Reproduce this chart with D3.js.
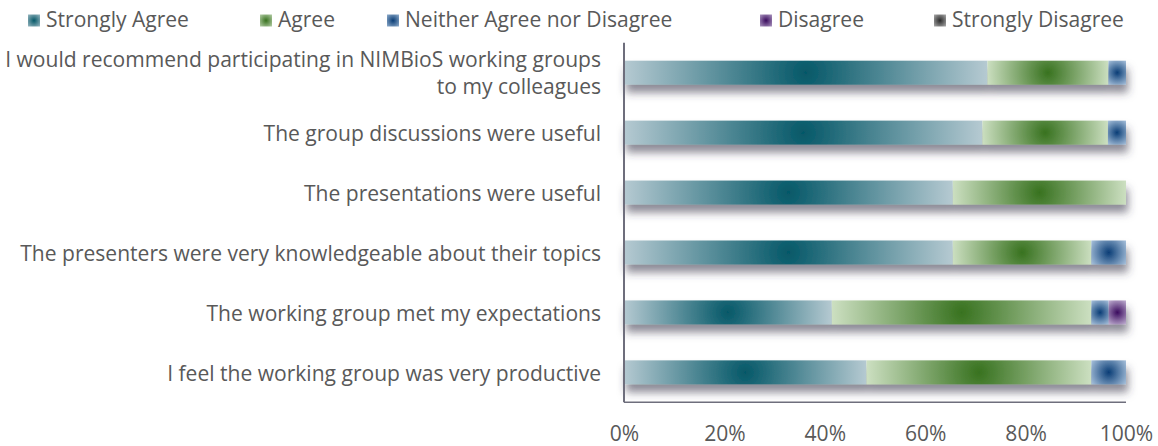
<!DOCTYPE html>
<html>
<head>
<meta charset="utf-8">
<script src="https://cdn.jsdelivr.net/npm/d3@7"></script>
<style>
  html, body { margin: 0; padding: 0; background: #ffffff; }
  svg { display: block; }
  text { font-family: "Open Sans", "Noto Sans", sans-serif; fill: #595959; }
</style>
</head>
<body>
<svg id="chart" width="1158" height="446"></svg>
<script>
// ---- data (percent of respondents) ----
const categories = [
  "I would recommend participating in NIMBioS working groups|to my colleagues",
  "The group discussions were useful",
  "The presentations were useful",
  "The presenters were very knowledgeable about their topics",
  "The working group met my expectations",
  "I feel the working group was very productive"
];
const seriesNames = ["Strongly Agree", "Agree", "Neither Agree nor Disagree", "Disagree", "Strongly Disagree"];
const stronglyAgree    = [72.4, 71.4, 65.5, 65.5, 41.4, 48.3];
const agree            = [24.1, 25.0, 34.5, 27.6, 51.7, 44.8];
const neither          = [3.5, 3.6, 0, 6.9, 3.45, 6.9];
const disagree         = [0, 0, 0, 0, 3.45, 0];
const stronglyDisagree = [0, 0, 0, 0, 0, 0];
const tickValues = [0, 20, 40, 60, 80, 100];

// colours: [centre (dark), edge (light)]
const palette = [
  ["#055868", "#b6cad2"],
  ["#38721f", "#cde0c2"],
  ["#0a3d76", "#a9c2dc"],
  ["#3a0b5e", "#c2b2d3"],
  ["#2a2a2a", "#c4c4c4"]
];

const rows = categories.map((c, i) => ({
  cat: c,
  "Strongly Agree": stronglyAgree[i],
  "Agree": agree[i],
  "Neither Agree nor Disagree": neither[i],
  "Disagree": disagree[i],
  "Strongly Disagree": stronglyDisagree[i]
}));
const stacked = d3.stack().keys(seriesNames)(rows);

const svg = d3.select("#chart");
const defs = svg.append("defs");

const plot = { left: 624, right: 1126, top: 42.7, bottom: 402.3 };
const x = d3.scaleLinear().domain([0, 100]).range([plot.left, plot.right]);
const y = d3.scaleBand().domain(categories).range([plot.top, plot.bottom])
  .paddingInner(0.6).paddingOuter(0.3);

// shadow filter
const f = defs.append("filter").attr("id", "shadow")
  .attr("x", "-0.05").attr("y", "-0.6").attr("width", "1.1").attr("height", "2.8");
f.append("feGaussianBlur").attr("in", "SourceAlpha").attr("stdDeviation", 4.5).attr("result", "b");
f.append("feOffset").attr("in", "b").attr("dx", 2).attr("dy", 8).attr("result", "o");
f.append("feFlood").attr("flood-color", "#3a384c").attr("flood-opacity", 0.58).attr("result", "c");
f.append("feComposite").attr("in", "c").attr("in2", "o").attr("operator", "in").attr("result", "s");
const fm = f.append("feMerge");
fm.append("feMergeNode").attr("in", "s");
fm.append("feMergeNode").attr("in", "SourceGraphic");

let gid = 0;
function radial(cx, cy, r, si) {
  const id = "g" + (gid++);
  const g = defs.append("radialGradient").attr("id", id)
    .attr("gradientUnits", "userSpaceOnUse")
    .attr("cx", cx).attr("cy", cy).attr("r", r)
    .attr("fx", cx).attr("fy", cy);
  g.append("stop").attr("offset", "0%").attr("stop-color", palette[si][0]);
  g.append("stop").attr("offset", "100%").attr("stop-color", palette[si][1]);
  return "url(#" + id + ")";
}

// bars
const rowGroups = svg.append("g").selectAll("g.row")
  .data(categories).join("g").attr("class", "row").attr("filter", "url(#shadow)");

rowGroups.each(function(cat, ri) {
  const g = d3.select(this);
  stacked.forEach((s, si) => {
    const d = s[ri];
    const x0 = x(d[0]), x1 = x(d[1]);
    const w = x1 - x0;
    if (w <= 0.01) return;
    const y0 = y(cat), h = y.bandwidth();
    const r = Math.sqrt(w * w + h * h) / 2;
    g.append("rect")
      .attr("x", x0).attr("y", y0).attr("width", w).attr("height", h)
      .attr("fill", radial(x0 + w / 2, y0 + h / 2, r, si));
  });
});

// axes lines
svg.append("line").attr("x1", plot.left).attr("x2", plot.left)
  .attr("y1", plot.top).attr("y2", plot.bottom)
  .attr("stroke", "#6e6e7c").attr("stroke-width", 2);
svg.append("line").attr("x1", plot.left).attr("x2", plot.right)
  .attr("y1", plot.bottom).attr("y2", plot.bottom)
  .attr("stroke", "#6e6e7c").attr("stroke-width", 1.5);

// category labels (font size fitted so the longest label spans the reference width)
const lbl = svg.append("g").selectAll("text").data(categories).join("text")
  .attr("text-anchor", "end")
  .style("font-size", "20px");
lbl.each(function(cat) {
  const t = d3.select(this);
  const lines = cat.split("|");
  const cy = y(cat) + y.bandwidth() / 2;
  const base = cy + 8.3 - (lines.length - 1) * 13.5;
  lines.forEach((ln, k) => {
    t.append("tspan").attr("x", 601).attr("y", base + k * 27).text(ln);
  });
});
const probe = lbl.filter((d, i) => i === 3).node().getComputedTextLength();
const fs = 20 * 581 / probe;
lbl.style("font-size", fs + "px");

// x axis tick labels via d3 axis
const xAxis = d3.axisBottom(x).tickValues(tickValues).tickSize(0).tickPadding(0)
  .tickFormat(d => d + "%");
const xg = svg.append("g").attr("transform", "translate(0," + plot.bottom + ")").call(xAxis);
xg.select(".domain").remove();
xg.selectAll("text").attr("y", 38.5).attr("dy", null)
  .style("font-size", fs + "px").attr("fill", "#595959")
  .style("font-family", "'Open Sans', 'Noto Sans', sans-serif");

// legend
const legendTextX = [46, 278, 405, 778, 952];
const lg = svg.append("g").selectAll("g").data(seriesNames).join("g")
  .attr("transform", (d, i) => "translate(" + legendTextX[i] + ",0)");
lg.each(function(name, i) {
  const g = d3.select(this);
  g.append("rect").attr("x", -18).attr("y", 14.5).attr("width", 12).attr("height", 12)
    .attr("fill", radial(-12, 20.5, 10, i));
  g.append("text").attr("x", 0).attr("y", 26.5).style("font-size", fs + "px").text(name);
});
</script>
</body>
</html>
